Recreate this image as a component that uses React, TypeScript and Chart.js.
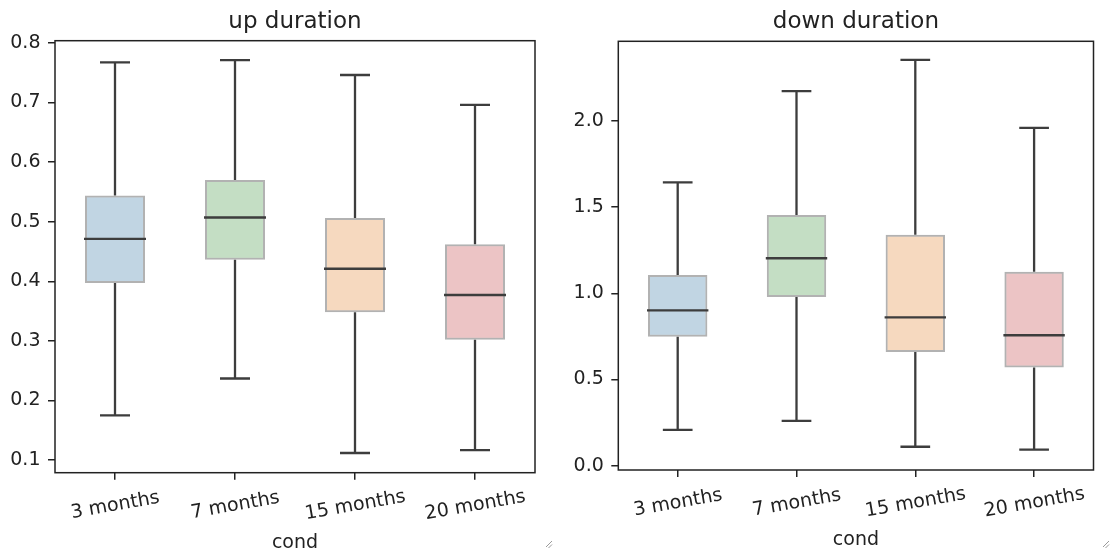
import React, { useEffect, useRef } from "react";
import { Chart, registerables } from "chart.js";

Chart.register(...registerables);

// Categories along the x axis
const categories = ["3 months", "7 months", "15 months", "20 months"];

// Box fill colours (muted palette, 30% opacity)
const boxFills = [
  "rgba(50,116,161,0.3)",
  "rgba(58,146,58,0.3)",
  "rgba(225,129,44,0.3)",
  "rgba(192,61,62,0.3)",
];

// "up duration" five-number summaries
const upLow = [0.175, 0.237, 0.112, 0.117];
const upQ1 = [0.397, 0.436, 0.348, 0.302];
const upMedian = [0.471, 0.507, 0.421, 0.377];
const upQ3 = [0.544, 0.57, 0.506, 0.462];
const upHigh = [0.767, 0.771, 0.746, 0.696];
const upTicks = [0.1, 0.2, 0.3, 0.4, 0.5, 0.6, 0.7, 0.8];

// "down duration" five-number summaries
const downLow = [0.208, 0.26, 0.11, 0.093];
const downQ1 = [0.749, 0.979, 0.66, 0.57];
const downMedian = [0.901, 1.204, 0.861, 0.757];
const downQ3 = [1.106, 1.455, 1.341, 1.125];
const downHigh = [1.644, 2.174, 2.355, 1.961];
const downTicks = [0.0, 0.5, 1.0, 1.5, 2.0];

const FONT = "'DejaVu Sans', 'Liberation Sans', sans-serif";
const INK = "#222222";
const WHISKER = "#3d3d3d";

type Panel = {
  title: string;
  xLabel: string;
  low: number[];
  q1: number[];
  median: number[];
  q3: number[];
  high: number[];
  ticks: number[];
  yMin: number;
  yMax: number;
  left: number;
  width: number;
  height: number;
  yAxisWidth: number;
  xAxisHeight: number;
  padTop: number;
  padRight: number;
};

const panels: Panel[] = [
  {
    title: "up duration",
    xLabel: "cond",
    low: upLow,
    q1: upQ1,
    median: upMedian,
    q3: upQ3,
    high: upHigh,
    ticks: upTicks,
    yMin: 0.079,
    yMax: 0.8035,
    left: 0,
    width: 570,
    height: 554,
    yAxisWidth: 55,
    xAxisHeight: 81.3,
    padTop: 40.7,
    padRight: 35,
  },
  {
    title: "down duration",
    xLabel: "cond",
    low: downLow,
    q1: downQ1,
    median: downMedian,
    q3: downQ3,
    high: downHigh,
    ticks: downTicks,
    yMin: -0.025,
    yMax: 2.463,
    left: 570,
    width: 541,
    height: 554,
    yAxisWidth: 48.3,
    xAxisHeight: 84,
    padTop: 41.3,
    padRight: 17.5,
  },
];

function boxPlotPlugin(p: Panel) {
  return {
    id: "boxParts",
    afterDatasetsDraw(chart: any) {
      const ctx = chart.ctx as CanvasRenderingContext2D;
      const y = chart.scales.y;
      const meta = chart.getDatasetMeta(0);
      ctx.save();
      ctx.strokeStyle = WHISKER;
      ctx.lineWidth = 2.3;
      ctx.lineCap = "butt";
      p.median.forEach((m, i) => {
        const bar = meta.data[i] as any;
        const cx = bar.x;
        const half = bar.width / 2;
        const capHalf = bar.width / 4;
        const yLow = y.getPixelForValue(p.low[i]);
        const yQ1 = y.getPixelForValue(p.q1[i]);
        const yMed = y.getPixelForValue(m);
        const yQ3 = y.getPixelForValue(p.q3[i]);
        const yHigh = y.getPixelForValue(p.high[i]);
        ctx.beginPath();
        // upper whisker and cap
        ctx.moveTo(cx, yQ3);
        ctx.lineTo(cx, yHigh);
        ctx.moveTo(cx - capHalf, yHigh);
        ctx.lineTo(cx + capHalf, yHigh);
        // lower whisker and cap
        ctx.moveTo(cx, yQ1);
        ctx.lineTo(cx, yLow);
        ctx.moveTo(cx - capHalf, yLow);
        ctx.lineTo(cx + capHalf, yLow);
        // median
        ctx.moveTo(cx - half - 1, yMed);
        ctx.lineTo(cx + half + 1, yMed);
        ctx.stroke();
      });
      ctx.restore();
    },
    afterDraw(chart: any) {
      const ctx = chart.ctx as CanvasRenderingContext2D;
      const area = chart.chartArea;
      const x = chart.scales.x;
      ctx.save();

      // axes frame
      ctx.strokeStyle = INK;
      ctx.lineWidth = 1.5;
      ctx.strokeRect(area.left, area.top, area.right - area.left, area.bottom - area.top);

      // title
      const cx = (area.left + area.right) / 2;
      ctx.fillStyle = INK;
      ctx.font = `23px ${FONT}`;
      ctx.textAlign = "center";
      ctx.textBaseline = "alphabetic";
      ctx.fillText(p.title, cx, 28);

      // rotated category labels
      const fs = 19;
      ctx.font = `${fs}px ${FONT}`;
      const angle = (-10 * Math.PI) / 180;
      categories.forEach((label, i) => {
        const tx = x.getPixelForValue(i);
        const ty = area.bottom + 31;
        ctx.save();
        ctx.translate(tx, ty);
        ctx.rotate(angle);
        ctx.textAlign = "center";
        ctx.textBaseline = "alphabetic";
        ctx.fillText(label, 0, fs * 0.36);
        ctx.restore();
      });

      // axis label
      ctx.textAlign = "center";
      ctx.textBaseline = "alphabetic";
      ctx.fillText(p.xLabel, cx, area.bottom + 75);

      // resize grip in the bottom-right corner
      ctx.strokeStyle = "#9a9a9a";
      ctx.lineWidth = 1;
      const gx = chart.width - (p.left === 0 ? 24 : 8);
      const gy = chart.height - 7;
      ctx.beginPath();
      ctx.moveTo(gx + 6, gy - 6);
      ctx.lineTo(gx, gy);
      ctx.moveTo(gx + 6, gy - 2.5);
      ctx.lineTo(gx + 2.5, gy + 1);
      ctx.stroke();

      ctx.restore();
    },
  };
}

function makeChart(canvas: HTMLCanvasElement, p: Panel) {
  return new Chart(canvas, {
    type: "bar",
    data: {
      labels: categories,
      datasets: [
        {
          data: p.q1.map((v, i) => [v, p.q3[i]]) as any,
          backgroundColor: boxFills,
          borderColor: "rgba(63,63,63,0.4)",
          borderWidth: 2,
          borderSkipped: false,
          barPercentage: 0.5,
          categoryPercentage: 1,
        },
      ],
    },
    options: {
      responsive: false,
      animation: false,
      devicePixelRatio: 1,
      layout: { padding: { left: 0, right: p.padRight, top: p.padTop, bottom: 0 } },
      plugins: {
        legend: { display: false },
        tooltip: { enabled: false },
        title: { display: false },
      },
      scales: {
        x: {
          type: "category",
          offset: true,
          ticks: { display: false },
          grid: {
            offset: false,
            drawOnChartArea: false,
            drawTicks: true,
            tickLength: 7,
            color: INK,
            lineWidth: 1.5,
          },
          border: { display: false },
          afterFit: (s: any) => {
            s.height = p.xAxisHeight;
          },
        },
        y: {
          type: "linear",
          min: p.yMin,
          max: p.yMax,
          afterBuildTicks: (s: any) => {
            s.ticks = p.ticks.map((v) => ({ value: v }));
          },
          ticks: {
            color: INK,
            font: { family: FONT, size: 19 },
            padding: 7.5,
            callback: (v: any) => Number(v).toFixed(1),
          },
          grid: {
            drawOnChartArea: false,
            drawTicks: true,
            tickLength: 7,
            color: INK,
            lineWidth: 1.5,
          },
          border: { display: false },
          afterFit: (s: any) => {
            s.width = p.yAxisWidth;
          },
        },
      },
    } as any,
    plugins: [boxPlotPlugin(p)],
  });
}

export default function App() {
  const leftRef = useRef<HTMLCanvasElement | null>(null);
  const rightRef = useRef<HTMLCanvasElement | null>(null);

  useEffect(() => {
    const charts: Chart[] = [];
    if (leftRef.current) charts.push(makeChart(leftRef.current, panels[0]));
    if (rightRef.current) charts.push(makeChart(rightRef.current, panels[1]));
    return () => charts.forEach((c) => c.destroy());
  }, []);

  const refs = [leftRef, rightRef];
  return (
    <div
      style={{
        position: "absolute",
        left: 0,
        top: 0,
        width: 1111,
        height: 554,
        background: "#ffffff",
        overflow: "hidden",
      }}
    >
      {panels.map((p, i) => (
        <canvas
          key={p.title}
          ref={refs[i]}
          width={p.width}
          height={p.height}
          style={{
            position: "absolute",
            left: p.left,
            top: 0,
            width: p.width,
            height: p.height,
          }}
        />
      ))}
    </div>
  );
}
